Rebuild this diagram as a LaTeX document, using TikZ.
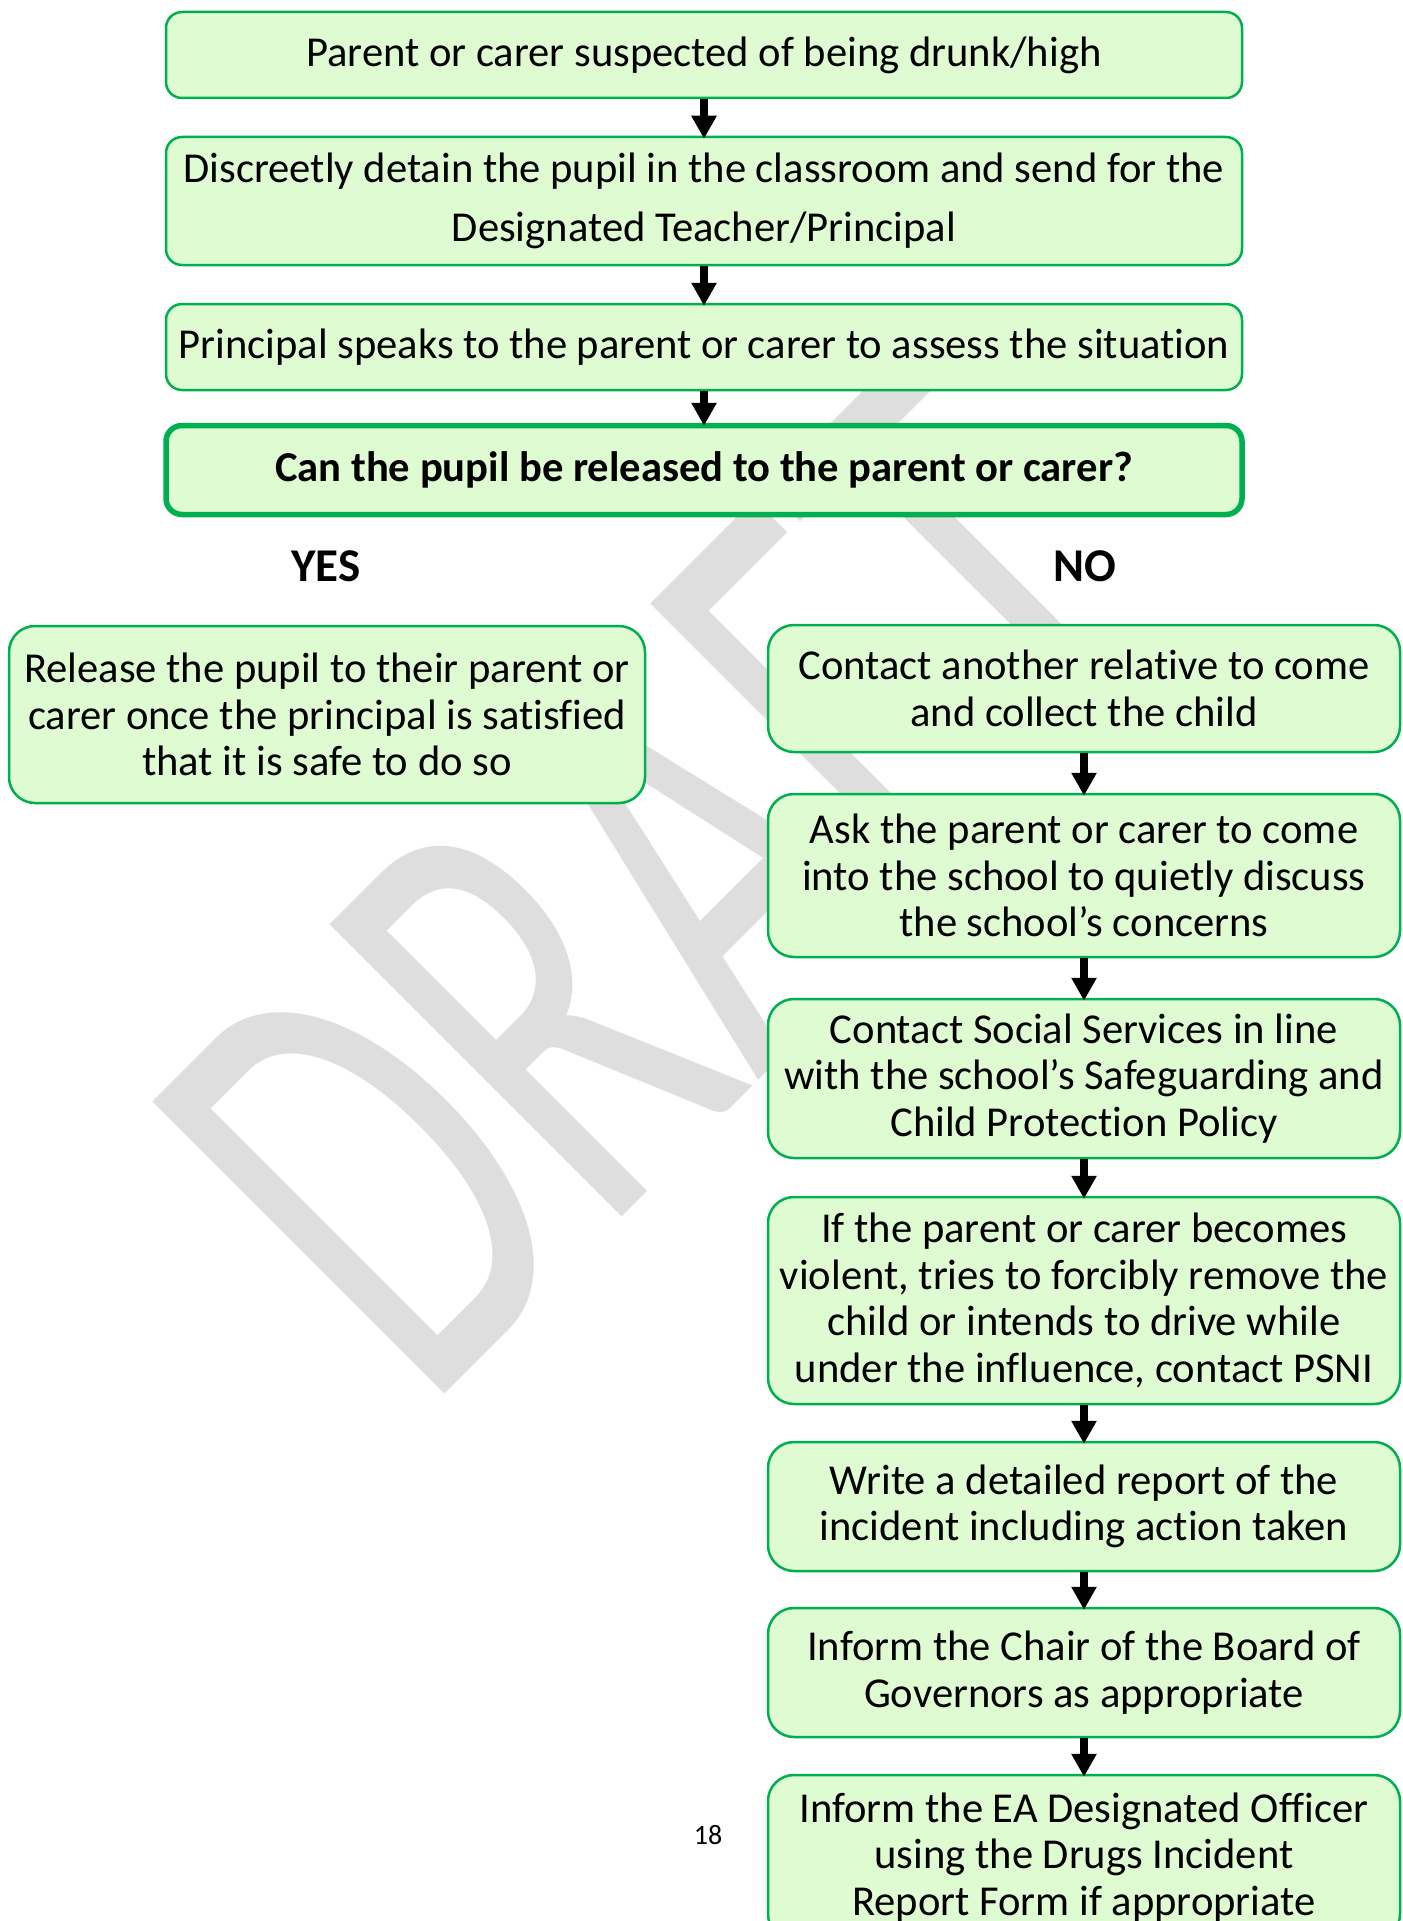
\documentclass[tikz,border=0pt]{standalone}
\usepackage{fontspec}
\setmainfont{Carlito}[Ligatures=NoCommon]
\usetikzlibrary{arrows.meta}

\definecolor{boxgreen}{RGB}{0,176,80}
\definecolor{boxfill}{RGB}{222,251,210}
\definecolor{draftgrey}{RGB}{222,222,222}

\tikzset{
  stepbox/.style={draw=boxgreen, fill=boxfill, line width=2.5pt, rounded corners=26pt,
    align=center, inner sep=0pt, font=\fontsize{42.6}{46.6}\selectfont},
  topbox/.style={stepbox, rounded corners=16pt, minimum width=1076pt},
  rightbox/.style={stepbox, minimum width=632pt},
  flowarrow/.style={line width=7.7pt, shorten >=-3pt, -{Triangle[width=24pt,length=23pt]}},
  answer/.style={font=\bfseries\fontsize{47}{50}\selectfont}
}

\begin{document}
\begin{tikzpicture}[x=1pt, y=-1pt] % one unit is one pixel of the page

% Page and its margins
\path[use as bounding box, fill=white] (0,0) rectangle (1402,1921);

% Watermark behind everything
\node[anchor=base west, rotate=45, xscale=0.63, inner sep=0pt, text=draftgrey,
  font=\fontsize{644}{644}\selectfont] (draft) at (425,1414) {DRAFT};

% Top column
\node[topbox, minimum height=86pt] (suspect) at (704,55) {Parent or carer suspected of being drunk/high};
\node[topbox, minimum height=128pt, font=\fontsize{42.6}{59}\selectfont] (detain) at (704,201)
  {Discreetly detain the pupil in the classroom and send for the\\Designated Teacher/Principal};
\node[topbox, minimum height=86pt] (assess) at (704,347) {Principal speaks to the parent or carer to assess the situation};
\node[topbox, minimum height=89pt, line width=5.5pt, font=\bfseries\fontsize{42.6}{46.6}\selectfont] (question) at (704,470)
  {Can the pupil be released to the parent or carer?};

% Answers
\node[answer] (yes) at (326,566) {YES};
\node[answer] (no) at (1085,566) {NO};

% YES branch
\node[stepbox, minimum width=636pt, minimum height=177pt] (release) at (327,714.5)
  {Release the pupil to their parent or\\carer once the principal is satisfied\\that it is safe to do so};

% NO branch
\node[rightbox, minimum height=127pt] (relative) at (1084,688.5)
  {Contact another relative to come\\and collect the child};
\node[rightbox, minimum height=163pt] (discuss) at (1084,875.5)
  {Ask the parent or carer to come\\into the school to quietly discuss\\the school’s concerns};
\node[rightbox, minimum height=159pt] (social) at (1084,1078.5)
  {Contact Social Services in line\\with the school’s Safeguarding and\\Child Protection Policy};
\node[rightbox, minimum height=207pt] (psni) at (1084,1300.5)
  {If the parent or carer becomes\\violent, tries to forcibly remove the\\child or intends to drive while\\under the influence, contact PSNI};
\node[rightbox, minimum height=129pt] (report) at (1084,1506.5)
  {Write a detailed report of the\\incident including action taken};
\node[rightbox, minimum height=129pt] (chair) at (1084,1672.5)
  {Inform the Chair of the Board of\\Governors as appropriate};
\node[rightbox, minimum height=165pt] (officer) at (1084,1857.5)
  {Inform the EA Designated Officer\\using the Drugs Incident\\Report Form if appropriate};

% Arrows
\foreach \a/\b in {suspect/detain, detain/assess, assess/question,
  relative/discuss, discuss/social, social/psni, psni/report, report/chair, chair/officer} {
    \draw[flowarrow] (\a) -- (\b);
}

% Page number
\node[font=\fontsize{28}{30}\selectfont] (pagenum) at (708,1835) {18};

\end{tikzpicture}
\end{document}
